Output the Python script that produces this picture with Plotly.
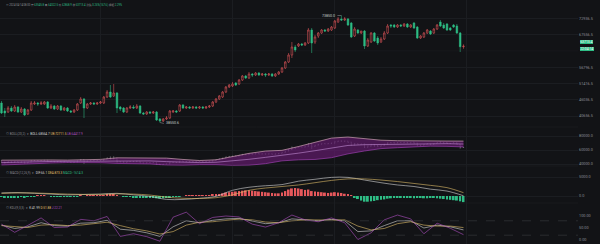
import plotly.graph_objects as go

# ---------------- data ----------------
opens = [44975, 42335, 42005, 43325, 42335, 43655, 42005, 42995, 41345, 42665,
         44645, 44975, 44645, 44645, 45305, 43325, 43985, 42995, 43985, 42665,
         43325, 42335, 42005, 42665, 44975, 46295, 43325, 44645, 44975, 44645,
         44975, 44975, 46955, 48605, 47285, 48275, 43655, 43325, 42005, 43325,
         43655, 43325, 43985, 41675, 41345, 42005, 41675, 42005, 39695, 39035,
         39695, 40025, 42005, 42335, 42335, 44315, 43325, 43655, 43325, 43655,
         43325, 43655, 43325, 43655, 43985, 45305, 46295, 46955, 48605, 50255,
         50585, 51575, 51245, 52565, 53885, 53225, 54545, 54215, 54875, 54215,
         54545, 54215, 54545, 53885, 54545, 55205, 56525, 58505, 60815, 63455,
         63785, 64445, 64115, 64775, 69065, 65105, 67085, 68075, 69065, 68735,
         69065, 69725, 71705, 72695, 72365, 72695, 71375, 67085, 69065, 68075,
         68735, 63785, 65105, 68075, 66425, 65105, 66095, 68075, 70715, 70715,
         70055, 70715, 70385, 71045, 70055, 71375, 70055, 66425, 66755, 68075,
         68735, 68075, 69395, 71705, 70715, 71045, 69725, 70715, 70385, 68075,
         63545.8]
highs = [45635, 43325, 43985, 43985, 44315, 43985, 43655, 43325, 42995, 45635,
         45635, 45305, 45635, 45635, 45635, 44645, 44315, 44315, 44315, 43655,
         43655, 42665, 42995, 44975, 46955, 46625, 44975, 45305, 45305, 45305,
         45635, 47285, 49265, 50915, 51245, 48605, 43985, 43655, 43655, 44315,
         44315, 44645, 44315, 42005, 42335, 42335, 42335, 42335, 40025, 40025,
         40685, 42665, 42665, 42665, 44645, 44645, 43985, 43985, 43985, 43985,
         43985, 43985, 43985, 44315, 45635, 46625, 47615, 48935, 50585, 51245,
         51905, 51905, 52895, 54215, 54215, 55205, 54875, 55205, 55205, 54875,
         54875, 54875, 54875, 54875, 55535, 56855, 58835, 61475, 65105, 64115,
         64775, 64775, 65105, 69725, 69725, 67415, 68405, 69395, 69395, 69725,
         70385, 72365, 73355, 73850, 73355, 73025, 71705, 70055, 69395, 68735,
         69065, 66425, 68405, 68405, 67085, 66755, 68735, 71045, 71045, 71045,
         71045, 71045, 71375, 71375, 71045, 71705, 70385, 67415, 68405, 69395,
         69065, 69725, 71045, 72365, 71375, 71375, 70055, 71045, 71045, 68405,
         64322.5]
lows = [41345, 40355, 41675, 42005, 42005, 41675, 41675, 40685, 41015, 42335,
        44315, 43985, 44315, 44315, 42995, 42995, 42665, 42665, 42335, 42335,
        42005, 41675, 41675, 42335, 44645, 40025, 42995, 44315, 44315, 44315,
        44645, 44645, 46625, 46625, 46955, 41675, 42335, 41675, 41675, 42995,
        42995, 42995, 41345, 41015, 41015, 41345, 41345, 39035, 38550.6, 38705,
        39365, 39695, 41675, 41675, 42005, 42995, 42995, 42995, 42995, 42995,
        42995, 42995, 42995, 43325, 43655, 44975, 45965, 46625, 48275, 49925,
        50255, 50585, 50915, 52235, 52895, 52895, 53555, 53885, 53885, 53885,
        53555, 53885, 53555, 53555, 54215, 54875, 56195, 58175, 59825, 61805,
        63455, 63785, 63785, 64445, 61475, 64445, 66425, 67745, 68405, 68405,
        68735, 69395, 71375, 72035, 72035, 70385, 66425, 66755, 67745, 67745,
        62795, 63455, 64775, 65105, 64115, 64775, 65765, 67745, 69725, 69725,
        69725, 70055, 70055, 69725, 69725, 69395, 66095, 66095, 66425, 67745,
        67415, 67745, 69065, 70055, 69395, 68735, 68735, 69725, 67745, 61805,
        62868.9]
closes = [41675, 41675, 43325, 42335, 43655, 42005, 42995, 41015, 42665, 44975,
          44975, 44645, 44975, 45305, 43325, 43985, 42995, 43985, 42665, 43325,
          42335, 42005, 42665, 44645, 46295, 43325, 44645, 44975, 44645, 44975,
          45305, 46955, 48605, 46955, 48275, 43325, 42995, 42005, 43325, 43655,
          43325, 43985, 41675, 41345, 42005, 41675, 42005, 39365, 39035, 39695,
          40025, 42335, 42335, 42005, 44315, 43325, 43655, 43325, 43655, 43325,
          43655, 43325, 43655, 43985, 45305, 46295, 47285, 48605, 50255, 50915,
          51245, 50915, 52565, 53885, 53225, 54545, 54215, 54875, 54215, 54545,
          54215, 54545, 53885, 54545, 55205, 56525, 58505, 60815, 63455, 62465,
          64445, 64115, 64775, 69065, 64775, 66755, 68075, 69065, 68735, 69395,
          70055, 72035, 72695, 72365, 72695, 70715, 66755, 69395, 68075, 68735,
          63785, 65765, 68075, 65435, 64775, 66095, 68075, 70385, 70385, 70055,
          70715, 70385, 71045, 70055, 70715, 69725, 66425, 67085, 68075, 69065,
          67745, 69395, 70715, 70385, 69725, 69065, 69065, 70055, 68075, 63545.8,
          63713.4]

# indicator readings (sampled every 5 candles for BOLL / MACD lines)
ind_x5 = [0, 5, 10, 15, 20, 25, 30, 35, 40, 45, 50, 55, 60, 65, 70, 75, 80, 85,
          90, 95, 100, 105, 110, 115, 120, 125, 130, 135, 140]
boll_mb = [42000, 42800, 43300, 43600, 43800, 44000, 44200, 44800, 44800, 44400,
           43400, 42300, 42000, 42500, 44300, 46700, 49500, 52000, 55500, 59000,
           63000, 66500, 67600, 68000, 68300, 68800, 69000, 69000, 68564.7]
boll_ub = [45500, 45800, 45800, 45800, 45600, 46000, 46600, 48800, 48800, 48700,
           48400, 46500, 45000, 46000, 50800, 55200, 58500, 59500, 65000, 71500,
           77000, 78500, 76600, 74000, 73300, 72800, 72500, 72800, 72711.5]
boll_lb = [38500, 39800, 40800, 41400, 42000, 42000, 41800, 40800, 40800, 40100,
           38400, 38100, 39000, 39000, 37800, 38200, 40500, 44500, 46000, 46500,
           49000, 54500, 58600, 62000, 63300, 64800, 65500, 65200, 64417.9]
macd_dif = [800, 900, 700, 500, 300, 400, 500, 700, 300, -100, -900, -900, -600,
            -100, 1500, 2300, 2700, 3000, 3900, 4400, 4900, 4900, 4200, 3500,
            2900, 2500, 1800, 1300, 66.1]
macd_dea = [700, 800, 800, 650, 500, 420, 430, 550, 500, 250, -300, -600, -650,
            -450, 300, 1500, 2100, 2500, 2900, 3500, 4100, 4500, 4500, 4200,
            3800, 3300, 2800, 2200, 873.3]
macd_hist = [-200, -300, -300, -350, -300, -300, -250, -300, -250,
             -150, -50, 50, 100, 100,
             0, -50, -100, -150, -150, -200, -200, -250, -250,
             -100, 50, 0, 50, 50, 50, 50, 100, 250, 400, 400, 400,
             150, 0, -100, -200, -250, -300, -300, -400, -450, -500, -500, -500,
             -600, -650, -600, -500,
             -350, -250, -200, -50, 0, 50, 50, 100, 100, 150, 150, 150, 200,
             300, 400, 500, 700, 900, 1000, 1100, 1200, 1300,
             1400, 1500, 1500, 1400, 1300, 1200, 1100, 1000, 900, 800,
             700, 700, 900, 1300, 1700, 2000, 2100, 2000, 1800, 1600,
             1700, 1300, 1200, 1100, 1000, 900, 800, 900, 1000, 900,
             800, 600, 400, 100,
             -400, -800, -1200, -1500, -1500, -1400, -1300, -1100, -1000, -900,
             -700, -600, -500, -500, -400, -400, -400, -500, -600, -500,
             -500, -600, -600, -500, -500, -600, -700, -800, -900, -1000,
             -1100, -1200, -1400, -1614.3]

kdj_x = [0, 4, 8, 12, 16, 20, 24, 28, 32, 36, 40, 44, 48, 52, 56, 60, 64, 68,
         72, 76, 80, 84, 88, 92, 96, 100, 104, 108, 112, 116, 120, 124, 128,
         132, 136, 140]
kdj_k = [62, 48, 55, 72, 60, 58, 70, 72, 82, 45, 40, 30, 15, 55, 80, 72, 82, 88,
         90, 78, 68, 72, 88, 84, 80, 86, 80, 35, 38, 60, 80, 80, 50, 62, 55, 41.99]
kdj_d = [60, 56, 52, 62, 64, 60, 62, 68, 74, 60, 47, 38, 25, 35, 62, 74, 76, 82,
         87, 84, 75, 72, 80, 84, 82, 83, 84, 58, 42, 48, 68, 76, 62, 58, 58, 51.88]
kdj_j = [66, 32, 61, 92, 52, 54, 86, 80, 98, 15, 26, 14, -5, 95, 116, 68, 94, 100,
         96, 66, 54, 72, 104, 84, 76, 92, 72, 2, 30, 84, 104, 88, 26, 70, 49, 22.21]

header_vals = {"date": "2024-04-14 08:00", "open": "63545.8", "high": "64322.5",
               "low": "62868.9", "close": "63713.4", "chg": "0.26%(167.6)", "amp": "2.29%"}
price_max_label, price_min_label = "73850.0", "38550.6"
countdown = "22:04:14"
# right-axis labels of the price panel (the one behind the price tags is hidden)
price_ticks = [40656.5, 46036.5, 51416.5, 56796.5, 67556.5, 72936.5]

# ---------------- style ----------------
BG = "#121316"
GRID = "#1b1d21"
RED = "#e5585c"
GREEN = "#2ebd85"
LBL = "#8a8d93"
FONT = "Roboto, 'Noto Sans CJK SC', sans-serif"
FS_AX = 3.8
FS_HDR = 2.7
FS_IND = 3.1
TOTAL_H = 244
PLOT_W = 578


def py(p):
    return 1 - p / TOTAL_H


idx = list(range(len(closes)))
fig = go.Figure()

# main candles
fig.add_trace(go.Candlestick(
    x=idx, open=opens, high=highs, low=lows, close=closes,
    increasing=dict(line=dict(color=RED, width=0.55), fillcolor=BG),
    decreasing=dict(line=dict(color=GREEN, width=0.55), fillcolor=GREEN),
    whiskerwidth=0, xaxis="x", yaxis="y", hoverinfo="skip"))

# BOLL panel
fig.add_trace(go.Scatter(x=ind_x5, y=boll_lb, mode="lines",
                         line=dict(color="#9b3fae", width=0.7),
                         xaxis="x2", yaxis="y2"))
fig.add_trace(go.Scatter(x=ind_x5, y=boll_ub, mode="lines", fill="tonexty",
                         fillcolor="rgba(105,28,115,0.65)",
                         line=dict(color="#cfa2b4", width=0.7),
                         xaxis="x2", yaxis="y2"))
fig.add_trace(go.Scatter(x=ind_x5, y=boll_mb, mode="lines",
                         line=dict(color="#c58fd6", width=0.6),
                         xaxis="x2", yaxis="y2"))
fig.add_trace(go.Ohlc(x=idx, open=opens, high=highs, low=lows, close=closes,
                      increasing=dict(line=dict(color="#8d8f96", width=0.5)),
                      decreasing=dict(line=dict(color="#8d8f96", width=0.5)),
                      tickwidth=0.2, xaxis="x2", yaxis="y2", hoverinfo="skip"))

# MACD panel
fig.add_trace(go.Bar(x=idx, y=macd_hist,
                     marker=dict(color=[RED if v >= 0 else GREEN for v in macd_hist],
                                 line=dict(width=0)),
                     width=0.6, xaxis="x3", yaxis="y3"))
fig.add_trace(go.Scatter(x=ind_x5, y=macd_dif, mode="lines",
                         line=dict(color="#d8d8d8", width=0.6, shape="spline"),
                         xaxis="x3", yaxis="y3"))
fig.add_trace(go.Scatter(x=ind_x5, y=macd_dea, mode="lines",
                         line=dict(color="#e3c06a", width=0.6, shape="spline"),
                         xaxis="x3", yaxis="y3"))

# KDJ panel
fig.add_trace(go.Scatter(x=kdj_x, y=kdj_k, mode="lines",
                         line=dict(color="#d8d8d8", width=0.6), xaxis="x4", yaxis="y4"))
fig.add_trace(go.Scatter(x=kdj_x, y=kdj_d, mode="lines",
                         line=dict(color="#e3c06a", width=0.6), xaxis="x4", yaxis="y4"))
fig.add_trace(go.Scatter(x=kdj_x, y=kdj_j, mode="lines",
                         line=dict(color="#b04fc4", width=0.6), xaxis="x4", yaxis="y4"))

XR = [-0.45, 174.7]
xcommon = dict(range=XR, showticklabels=False, showgrid=True, gridcolor=GRID,
               gridwidth=0.6, zeroline=False, showline=False, ticks="",
               tickvals=[30, 70, 101, 141])
ycommon = dict(side="right", showgrid=True, gridcolor=GRID, gridwidth=0.6,
               zeroline=False, showline=False, ticks="",
               tickfont=dict(family=FONT, size=FS_AX, color=LBL))

fig.update_layout(
    width=600, height=244, margin=dict(l=0, r=22, t=0, b=0),
    paper_bgcolor=BG, plot_bgcolor=BG, showlegend=False, bargap=0.3,
    xaxis=dict(xcommon, domain=[0, 1], anchor="y", rangeslider=dict(visible=False)),
    xaxis2=dict(xcommon, domain=[0, 1], anchor="y2", matches="x",
                rangeslider=dict(visible=False)),
    xaxis3=dict(xcommon, domain=[0, 1], anchor="y3", matches="x"),
    xaxis4=dict(xcommon, domain=[0, 1], anchor="y4", matches="x"),
    yaxis=dict(ycommon, domain=[py(127), 1], range=[37055, 78965],
               tickvals=price_ticks, tickformat=".1f"),
    yaxis2=dict(ycommon, domain=[py(166), py(127)], range=[37143, 92857],
                tickvals=[40000, 60000, 80000], tickformat=".1f"),
    yaxis3=dict(ycommon, domain=[py(203), py(166)], range=[-1842, 7895],
                tickvals=[0, 5000], tickformat=".1f"),
    yaxis4=dict(ycommon, domain=[0, py(203)], range=[-16.7, 154.2],
                tickvals=[0, 50, 100], tickformat=".2f", showgrid=False),
)

# hidden-label gridline of the price panel
fig.add_shape(type="line", xref="x", yref="y", x0=XR[0], x1=XR[1], y0=62176.5, y1=62176.5,
              line=dict(color=GRID, width=0.6), layer="below")

# dashed KDJ levels
for lv in (80, 20):
    fig.add_shape(type="line", xref="x4", yref="y4", x0=XR[0], x1=XR[1], y0=lv, y1=lv,
                  line=dict(color="#3a3c42", width=0.6, dash="dash"))
# panel separators
for p in (127, 166, 203):
    fig.add_shape(type="line", xref="paper", yref="paper", x0=0, x1=1,
                  y0=py(p), y1=py(p), line=dict(color="#1e2024", width=0.6))


def span(t, c):
    return f'<span style="color:{c}">{t}</span>'


hdr = (span("⊙ " + header_vals["date"] + " 开 ", LBL) + span(header_vals["open"], GREEN)
       + span(" 高 ", LBL) + span(header_vals["high"], GREEN)
       + span(" 低 ", LBL) + span(header_vals["low"], GREEN)
       + span(" 收 ", LBL) + span(header_vals["close"], GREEN)
       + span(" 涨跌 ", LBL) + span(header_vals["chg"], GREEN)
       + span(" 振幅 ", LBL) + span(header_vals["amp"], GREEN))
boll_t = (span("⊙ BOLL(20,2)&nbsp; ▾&nbsp; ", LBL)
          + span(f"BOLL:{boll_mb[-1]:.1f}", "#d8d8d8") + " "
          + span(f"UB:{boll_ub[-1]:.1f}", "#e3c06a") + " "
          + span(f"LB:{boll_lb[-1]:.1f}", "#b04fc4"))
macd_t = (span("⊙ MACD(12,26,9)&nbsp; ▾&nbsp; ", LBL)
          + span(f"DIF:{macd_dif[-1]:.1f}", "#d8d8d8") + " "
          + span(f"DEA:{macd_dea[-1]:.1f}", "#e3c06a") + " "
          + span(f"MACD:{macd_hist[-1]:.1f}", GREEN))
kdj_t = (span("⊙ KDJ(9,3,3)&nbsp; ▾&nbsp; ", LBL)
         + span(f"K:{kdj_k[-1]:.2f}", "#d8d8d8") + " "
         + span(f"D:{kdj_d[-1]:.2f}", "#e3c06a") + " "
         + span(f"J:{kdj_j[-1]:.2f}", "#b04fc4"))

for txt, ypx, fs in ((hdr, 5, FS_HDR), (boll_t, 134.3, FS_IND),
                     (macd_t, 172.7, FS_IND), (kdj_t, 208.3, FS_IND)):
    fig.add_annotation(xref="paper", yref="paper", x=4 / PLOT_W, y=py(ypx),
                       xanchor="left", yanchor="middle", showarrow=False, text=txt,
                       font=dict(family=FONT, size=fs, color=LBL))

# max / min markers
fig.add_annotation(x=103, y=max(highs), xref="x", yref="y", text=price_max_label,
                   showarrow=True, arrowhead=0, arrowwidth=0.5, arrowcolor="#9a9ca2",
                   ax=-4, ay=0, xanchor="right", yanchor="middle",
                   font=dict(family=FONT, size=3.6, color="#c8c9cc"))
fig.add_annotation(x=48, y=min(lows), xref="x", yref="y", text=price_min_label,
                   showarrow=True, arrowhead=0, arrowwidth=0.5, arrowcolor="#9a9ca2",
                   ax=4, ay=1, xanchor="left", yanchor="middle",
                   font=dict(family=FONT, size=3.6, color="#c8c9cc"))

# last price tags
fig.add_annotation(xref="paper", yref="paper", x=580 / PLOT_W, y=py(41.7),
                   xanchor="left", yanchor="middle", showarrow=False,
                   text=header_vals["close"], bgcolor=GREEN, borderpad=0.2,
                   borderwidth=0, font=dict(family=FONT, size=3.4, color="#ffffff"))
fig.add_annotation(xref="paper", yref="paper", x=580 / PLOT_W, y=py(48.6),
                   xanchor="left", yanchor="middle", showarrow=False,
                   text=countdown, bgcolor=GREEN, borderpad=0.2,
                   borderwidth=0, font=dict(family=FONT, size=3.4, color="#ffffff"))

fig.write_html("out.html")
